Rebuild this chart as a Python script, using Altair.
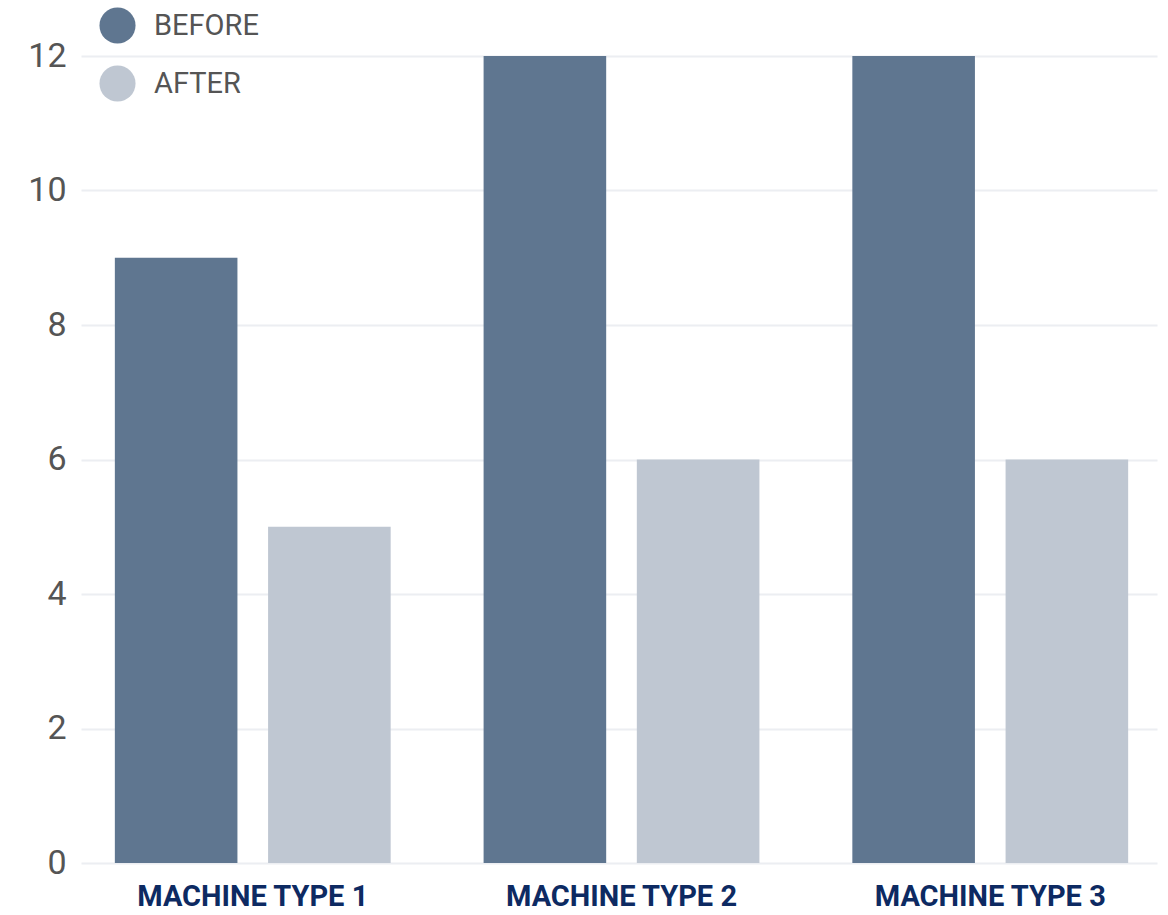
import altair as alt
import pandas as pd

machines = ["MACHINE TYPE 1", "MACHINE TYPE 2", "MACHINE TYPE 3"]
before = [9, 12, 12]
after = [5, 6, 6]
phases = ["BEFORE", "AFTER"]
colors = ["#5f7690", "#bfc7d2"]

rows = []
for m, b, a in zip(machines, before, after):
    rows.append({"machine": m, "phase": "BEFORE", "value": b})
    rows.append({"machine": m, "phase": "AFTER", "value": a})
df = pd.DataFrame(rows)

chart = alt.Chart(df).mark_bar().encode(
    x=alt.X("machine:N", sort=machines, title=None,
            scale=alt.Scale(paddingInner=0.252, paddingOuter=0.085, align=0.54),
            axis=alt.Axis(labelAngle=0, labelFont="Roboto", labelFontSize=29,
                          labelFontWeight="bold", labelColor="#0d2a62",
                          labelLimit=0, labelPadding=19, domain=False,
                          ticks=False, grid=False)),
    xOffset=alt.XOffset("phase:N", sort=phases,
                        scale=alt.Scale(paddingInner=0.2, paddingOuter=0)),
    y=alt.Y("value:Q", title=None,
            scale=alt.Scale(domain=[0, 12], nice=False),
            axis=alt.Axis(values=[0, 2, 4, 6, 8, 10, 12], labelFont="Roboto",
                          labelFontSize=34, labelColor="#555555", labelPadding=15,
                          domain=False, ticks=False, gridColor="#eceef2",
                          gridWidth=2)),
    color=alt.Color("phase:N", sort=phases,
                    scale=alt.Scale(domain=phases, range=colors),
                    legend=alt.Legend(title=None, orient="none", legendX=18,
                                      legendY=-49, symbolType="circle",
                                      symbolSize=1300, symbolOpacity=1,
                                      labelFont="Roboto", labelFontSize=29,
                                      labelColor="#555555", labelOffset=18,
                                      rowPadding=21)),
).properties(
    width=1076, height=807,
    autosize=alt.AutoSizeParams(type="none"),
    padding={"left": 81, "top": 56, "right": 11, "bottom": 52},
).configure_view(stroke=None).configure_legend(symbolStrokeWidth=0)

chart.save("out.html", embed_options={"renderer": "svg", "actions": False})
